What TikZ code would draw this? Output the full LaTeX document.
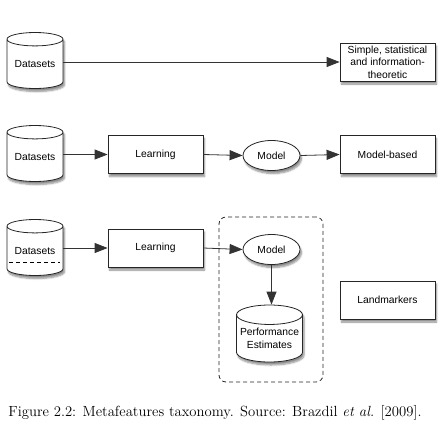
\documentclass[tikz,border=0pt]{standalone}
\usepackage{fontspec}
\setsansfont{Liberation Sans}
\usetikzlibrary{arrows.meta,shapes.geometric,shadows.blur}
\begin{document}
\begin{tikzpicture}[x=1pt,y=-1pt,
  base/.style={draw=black!85,line width=0.8pt,fill=white,font=\sffamily\fontsize{10.3}{12.6}\selectfont,align=center,
    blur shadow={shadow xshift=1.5pt,shadow yshift=-3pt,shadow blur steps=6,shadow opacity=45}},
  boxnode/.style={base,rectangle,minimum width=95pt,minimum height=38pt,inner sep=1pt},
  db/.style={base,cylinder,shape border rotate=90,aspect=0.33,minimum width=56pt,minimum height=56pt,inner sep=0pt,anchor=shape center},
  oval/.style={base,ellipse,minimum width=57pt,minimum height=30pt,inner sep=0pt},
  conn/.style={draw=black!80,line width=0.8pt,-{Triangle[length=13pt,width=10pt]}}]
\useasboundingbox (0,0) rectangle (444,437);
% row 1
\node[db] (ds1) at (35,60.5) {Datasets};
\node[boxnode] (simple) at (387.5,62) {Simple, statistical\\and information-\\theoretic};
\draw[conn] (ds1.east |- simple.west) -- (simple.west);
% row 2
\node[db] (ds2) at (35,153.5) {Datasets};
\node[boxnode] (learn2) at (155.5,154.5) {Learning};
\node[oval] (model2) at (271.5,155.5) {Model};
\node[boxnode] (mb) at (387.5,154.5) {Model-based};
\draw[conn] (ds2.east |- learn2.west) -- (learn2.west);
\draw[conn] (learn2.east) -- (model2.west);
\draw[conn] (model2.east) -- (mb.west);
% row 3
\node[draw=black!85,line width=0.8pt,dash pattern=on 4pt off 3pt,rounded corners=7pt,minimum width=104pt,minimum height=165pt] (grp) at (271,299.5) {};
\node[db] (ds3) at (35,247.5) {Datasets};
\draw[line width=0.8pt,dash pattern=on 4pt off 3pt] ([shift={(-26,14.5)}]ds3.shape center) -- ([shift={(25,14.5)}]ds3.shape center);
\node[boxnode] (learn3) at (155.5,248) {Learning};
\node[oval] (model3) at (271.5,249.5) {Model};
\node[db,minimum width=66pt,minimum height=57pt] (perf) at (269.5,333.5) {Performance\\Estimates};
\node[boxnode] (land) at (387.5,300) {Landmarkers};
\draw[conn] (ds3.east |- learn3.west) -- (learn3.west);
\draw[conn] (learn3.east) -- (model3.west);
\draw[conn] (model3.south) -- (model3.south |- perf.north);
% caption
\node[font=\fontsize{14.7}{17}\selectfont,inner sep=0pt] (cap) at (215,413) {Figure 2.2: Metafeatures taxonomy. Source: Brazdil \textit{et al.} [2009].};
\end{tikzpicture}
\end{document}
